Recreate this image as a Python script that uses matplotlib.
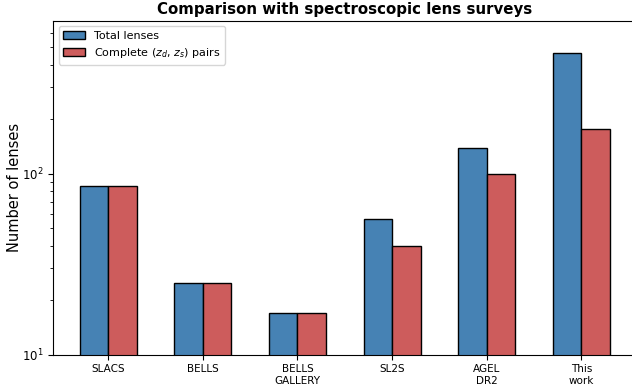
import numpy as np
import matplotlib
matplotlib.use("Agg")
import matplotlib.pyplot as plt

surveys = ["SLACS", "BELLS", "BELLS\nGALLERY", "SL2S", "AGEL\nDR2", "This\nwork"]
total_lenses = [85, 25, 17, 56, 138, 466]
complete_pairs = [85, 25, 17, 40, 99, 177]

fig = plt.figure(figsize=(6.32, 3.89), dpi=100)
ax = fig.add_axes([0.0843, 0.0882, 0.9225, 0.8586])

x = np.arange(len(surveys))
width = 0.3
ax.bar(x - width / 2, total_lenses, width, color="#4682B4", edgecolor="black",
       linewidth=1.0, label="Total lenses")
ax.bar(x + width / 2, complete_pairs, width, color="#CD5C5C", edgecolor="black",
       linewidth=1.0, label="Complete ($z_d$, $z_s$) pairs")

ax.set_yscale("log")
ax.set_ylim(10, max(total_lenses) * 1.5)
ax.set_xlim(-0.58, len(surveys) - 0.42)
ax.set_xticks(x)
ax.set_xticklabels(surveys, fontsize=7.5)
ax.tick_params(axis="y", labelsize=8.5)
ax.set_ylabel("Number of lenses", fontsize=10.5, labelpad=0)
ax.set_title("Comparison with spectroscopic lens surveys", fontsize=10.8,
             fontweight="bold", pad=4.5)
ax.legend(loc="upper left", fontsize=8)

fig.savefig("out.png", dpi=100)
